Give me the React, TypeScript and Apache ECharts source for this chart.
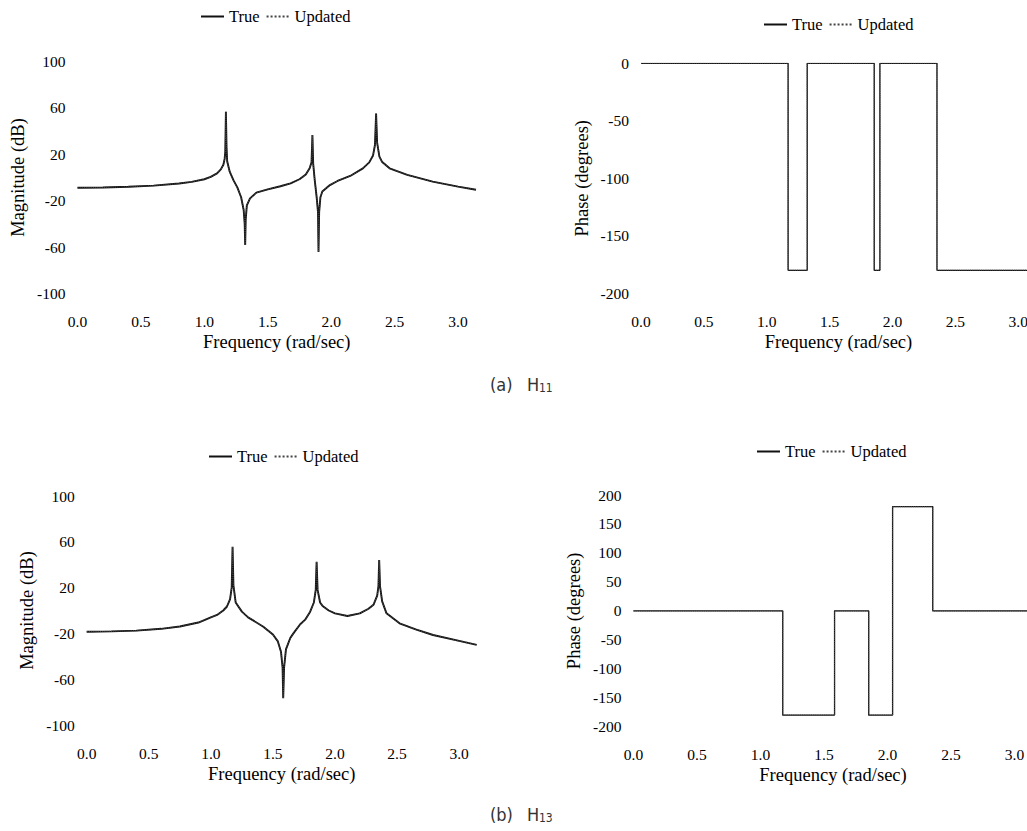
import { useEffect, useRef } from "react";
import * as echarts from "echarts";

const PI = Math.PI;
const legendNames = ["True", "Updated"];
const xName = "Frequency (rad/sec)";
const magName = "Magnitude (dB)";
const phaseName = "Phase (degrees)";

// H11 magnitude (frequency rad/sec, dB)
const h11MagTrue: number[][] = [
  [0, -8.8], [0.2, -8.6], [0.4, -8.0], [0.6, -7.0], [0.8, -5.2], [0.9, -3.8], [1.0, -1.5],
  [1.05, 0.5], [1.1, 3.5], [1.13, 7], [1.15, 11], [1.16, 16], [1.165, 22], [1.17, 56.6],
  [1.175, 26], [1.18, 14], [1.2, 5], [1.23, -2.5], [1.26, -8.5], [1.29, -17], [1.31, -28],
  [1.318, -40], [1.322, -58], [1.326, -36], [1.335, -24], [1.36, -18], [1.41, -13], [1.5, -10.2],
  [1.6, -7.5], [1.68, -5], [1.75, -1.5], [1.8, 2.5], [1.83, 8], [1.845, 13], [1.852, 36.6],
  [1.858, 12], [1.87, -2], [1.886, -17.6], [1.896, -30], [1.9, -64], [1.905, -30], [1.915, -17],
  [1.93, -12], [1.99, -6.5], [2.05, -3], [2.15, 1.3], [2.25, 7.9], [2.3, 13], [2.33, 19],
  [2.345, 28], [2.354, 55], [2.362, 30], [2.38, 18], [2.4, 13.6], [2.46, 7.9], [2.6, 2.2],
  [2.8, -3.6], [3.0, -7.8], [3.1416, -10.5],
];
const h11MagUpdated: number[][] = h11MagTrue;

// H11 phase (degrees)
const h11PhaseTrue: number[][] = [
  [0, 0], [1.17, 0], [1.17, -180], [1.322, -180], [1.322, 0], [1.855, 0], [1.855, -180],
  [1.9, -180], [1.9, 0], [2.354, 0], [2.354, -180], [3.1416, -180],
];
const h11PhaseUpdated: number[][] = h11PhaseTrue;

// H13 magnitude (dB)
const h13MagTrue: number[][] = [
  [0, -18.5], [0.2, -18.2], [0.4, -17.6], [0.6, -16], [0.75, -14], [0.9, -10.5], [1.0, -6],
  [1.05, -3.9], [1.1, 0], [1.13, 3.5], [1.155, 10], [1.168, 20], [1.175, 55.7], [1.182, 22],
  [1.2, 7], [1.25, -1], [1.3, -6], [1.42, -14], [1.5, -21], [1.54, -27], [1.565, -36],
  [1.578, -50], [1.583, -76.7], [1.59, -50], [1.605, -34], [1.64, -24], [1.665, -20], [1.72, -12],
  [1.76, -8], [1.8, -1], [1.83, 7], [1.845, 18], [1.852, 42.6], [1.86, 18], [1.88, 7], [1.9, 4],
  [1.95, 0], [2.0, -2.5], [2.1, -4.8], [2.2, -2.5], [2.27, 1.5], [2.31, 5], [2.34, 13],
  [2.35, 21], [2.356, 44.1], [2.363, 21], [2.38, 8], [2.415, -2.5], [2.52, -11.2], [2.65, -16.5],
  [2.79, -21.4], [3.0, -26.5], [3.1416, -30],
];
const h13MagUpdated: number[][] = h13MagTrue;

// H13 phase (degrees)
const h13PhaseTrue: number[][] = [
  [0, 0], [1.175, 0], [1.175, -180], [1.583, -180], [1.583, 0], [1.852, 0], [1.852, -180],
  [2.04, -180], [2.04, 180], [2.356, 180], [2.356, 0], [3.1416, 0],
];
const h13PhaseUpdated: number[][] = h13PhaseTrue;

const SERIF = "Liberation Serif";
const SANS = "'Liberation Sans Narrow', 'DejaVu Sans Condensed', 'Liberation Sans', sans-serif";

function xAxisFor(gridIndex: number) {
  return {
    type: "value",
    gridIndex,
    min: 0,
    max: PI,
    interval: 0.5,
    axisLine: { show: false },
    axisTick: { show: false },
    splitLine: { show: false },
    axisLabel: {
      fontFamily: SERIF,
      fontSize: 15.5,
      color: "#000",
      margin: 20,
      formatter: (v: number) =>
        Math.abs(v / 0.5 - Math.round(v / 0.5)) < 1e-6 ? v.toFixed(1) : "",
    },
    name: xName,
    nameLocation: "middle",
    nameGap: 39,
    nameTextStyle: { fontFamily: SERIF, fontSize: 18.5, color: "#000" },
  };
}

function yAxisFor(gridIndex: number, min: number, max: number, interval: number, name: string) {
  return {
    type: "value",
    gridIndex,
    min,
    max,
    interval,
    axisLine: { show: false },
    axisTick: { show: false },
    splitLine: { show: false },
    axisLabel: { fontFamily: SERIF, fontSize: 15.5, color: "#000", margin: 12 },
    name,
    nameLocation: "middle",
    nameGap: 50,
    nameRotate: 90,
    nameTextStyle: { fontFamily: SERIF, fontSize: 18.5, color: "#000" },
  };
}

function pair(idx: number, trueData: number[][], updData: number[][], width: number) {
  return [
    {
      name: "True",
      type: "line",
      xAxisIndex: idx,
      yAxisIndex: idx,
      data: trueData,
      symbol: "none",
      lineStyle: { color: "#111", width, type: "solid" },
      itemStyle: { color: "#111" },
    },
    {
      name: "Updated",
      type: "line",
      xAxisIndex: idx,
      yAxisIndex: idx,
      data: updData,
      symbol: "none",
      lineStyle: { color: "#444", width: 1.1, type: "dotted" },
      itemStyle: { color: "#444" },
    },
  ];
}

function legendAt(left: number, centerY: number) {
  return {
    data: legendNames,
    left,
    top: centerY - 9,
    padding: 0,
    itemWidth: 23,
    itemHeight: 10,
    itemGap: 6,
    selectedMode: false,
    itemStyle: { opacity: 0 },
    textStyle: { fontFamily: SERIF, fontSize: 16.5, color: "#000" },
  };
}

function caption(x: number, y: number, letter: string, sub: string) {
  return {
    type: "group",
    children: [
      {
        type: "text",
        x,
        y,
        style: { text: `(${letter})`, font: `18px ${SANS}`, fill: "#333", verticalAlign: "middle" },
      },
      {
        type: "text",
        x: x + 37,
        y,
        style: { text: "H", font: `18px ${SANS}`, fill: "#333", verticalAlign: "middle" },
      },
      {
        type: "text",
        x: x + 49,
        y: y + 4,
        style: { text: sub, font: `12px ${SANS}`, fill: "#333", verticalAlign: "middle" },
      },
    ],
  };
}

export default function App() {
  const ref = useRef<HTMLDivElement>(null);
  useEffect(() => {
    if (!ref.current) return;
    const chart = echarts.init(ref.current, undefined, { renderer: "svg" });
    const grid = (left: number, top: number, width: number, height: number) => ({
      left,
      top,
      width,
      height,
      containLabel: false,
      outerBoundsMode: "none",
    });
    chart.setOption({
      animation: false,
      backgroundColor: "#fff",
      grid: [
        grid(77.5, 61.3, 398.5, 232.4),
        grid(641, 63.3, 395, 230),
        grid(86.7, 496, 390, 229),
        grid(633.5, 495, 399, 231.7),
      ],
      xAxis: [xAxisFor(0), xAxisFor(1), xAxisFor(2), xAxisFor(3)],
      yAxis: [
        yAxisFor(0, -100, 100, 40, magName),
        yAxisFor(1, -200, 0, 50, phaseName),
        yAxisFor(2, -100, 100, 40, magName),
        yAxisFor(3, -200, 200, 50, phaseName),
      ],
      legend: [legendAt(200, 17), legendAt(763, 25), legendAt(208, 457), legendAt(756, 452)],
      series: [
        ...pair(0, h11MagTrue, h11MagUpdated, 1.9),
        ...pair(1, h11PhaseTrue, h11PhaseUpdated, 1.3),
        ...pair(2, h13MagTrue, h13MagUpdated, 1.9),
        ...pair(3, h13PhaseTrue, h13PhaseUpdated, 1.3),
      ],
      graphic: [caption(490, 384, "a", "11"), caption(490, 814, "b", "13")],
    });
    return () => chart.dispose();
  }, []);
  return (
    <div
      ref={ref}
      style={{ position: "absolute", left: 0, top: 0, width: 1027, height: 831, background: "#fff" }}
    />
  );
}
